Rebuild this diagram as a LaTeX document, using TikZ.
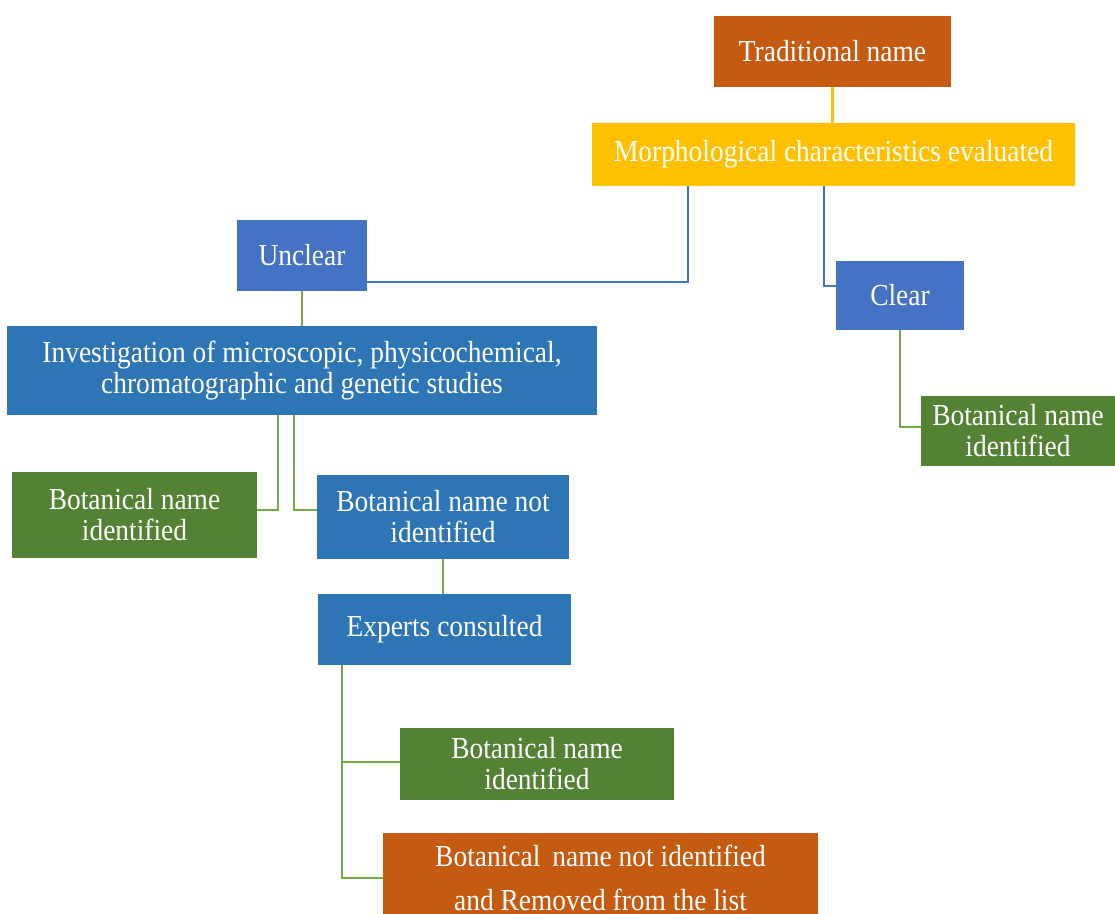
\documentclass[tikz,border=0pt]{standalone}
\usepackage{fontspec}
\setmainfont[FakeStretch=0.9]{Liberation Serif}
\usetikzlibrary{calc}

\definecolor{rust}{HTML}{C55A11}
\definecolor{gold}{HTML}{FFC000}
\definecolor{steel}{HTML}{4472C4}
\definecolor{ocean}{HTML}{2E75B6}
\definecolor{leaf}{HTML}{548235}
\definecolor{lime}{HTML}{70AD47}

\tikzset{
  box/.style={text=white, inner sep=0pt, align=center, font=\fontsize{30.5}{31}\selectfont},
  bline/.style={line width=2.5pt, steel},
  gline/.style={line width=2.5pt, lime},
  yline/.style={line width=2.5pt, gold}
}

\begin{document}
\begin{tikzpicture}[x=1pt, y=-1pt]
    \useasboundingbox (0,0) rectangle (1115,913);

    \node[box, fill=rust, minimum width=237pt, minimum height=71pt] (trad) at (832.5,51.5) {Traditional name};
    \node[box, fill=gold, minimum width=483pt, minimum height=63pt] (morph) at (833.5,154.5) {Morphological characteristics evaluated};
    \node[box, fill=steel, minimum width=130pt, minimum height=71pt] (unclear) at (302,255.5) {Unclear};
    \node[box, fill=steel, minimum width=128pt, minimum height=69pt] (clear) at (900,295.5) {Clear};
    \node[box, fill=ocean, minimum width=590pt, minimum height=89pt] (invest) at (302,370.5)
        {Investigation of microscopic, physicochemical,\\chromatographic and genetic studies};
    \node[box, fill=leaf, minimum width=194pt, minimum height=70pt] (botright) at (1018,431) {Botanical name\\identified};
    \node[box, fill=leaf, minimum width=245pt, minimum height=86pt] (botleft) at (134.5,515) {Botanical name\\identified};
    \node[box, fill=ocean, minimum width=252pt, minimum height=84pt] (notid) at (443,517) {Botanical name not\\identified};
    \node[box, fill=ocean, minimum width=253pt, minimum height=71pt] (experts) at (444.5,629.5) {Experts consulted};
    \node[box, fill=leaf, minimum width=274pt, minimum height=72pt] (botbottom) at (537,764) {Botanical name\\identified};
    \node[box, fill=rust, minimum width=435pt, minimum height=90pt, font=\fontsize{30.5}{44}\selectfont] (removed) at (600.5,878)
        {Botanical\, name not identified\\and Removed from the list};

    % connectors
    \draw[yline] (trad.south) -- (trad.south |- morph.north);
    \draw[bline] ([xshift=-145.5pt]morph.south) |- ([yshift=9pt]unclear.south east);
    \draw[bline] ([xshift=-9.5pt]morph.south) |- ([yshift=9.5pt]clear.west);
    \draw[gline] (unclear.south) -- (invest.north);
    \draw[gline] ([xshift=-24pt]invest.south) |- ([yshift=5pt]botleft.east);
    \draw[gline] ([xshift=-8pt]invest.south) |- ([yshift=7pt]notid.west);
    \draw[gline] (clear.south) |- ([yshift=4pt]botright.west);
    \draw[gline] (notid.south) -- (notid.south |- experts.north);
    \draw[gline] ([xshift=24pt]experts.south west) |- ([yshift=2pt]botbottom.west);
    \draw[gline] ([xshift=24pt]experts.south west) |- (removed.west);

\end{tikzpicture}
\end{document}
